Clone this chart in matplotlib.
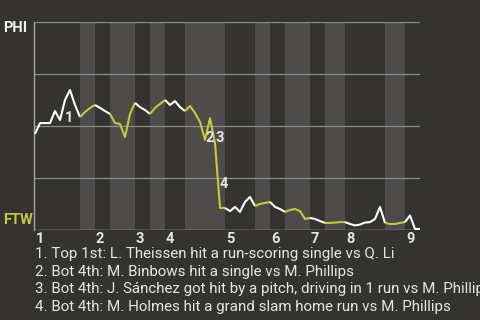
import matplotlib
matplotlib.use("Agg")
import matplotlib.pyplot as plt

plt.rcParams['font.family'] = ['Roboto', 'DejaVu Sans']

# ---- data ----
phi_wp = [46.2, 51.4, 51.4, 51.4, 57.2, 52.9, 62.5, 67.3, 60.1, 54.3,
          56.7, 58.7, 60.1, 58.7, 57.2, 55.8, 51.4, 51.0, 44.7, 55.8,
          61.1, 59.1, 57.7, 55.8, 58.7, 60.6, 62.5, 60.1, 62.0, 59.1,
          57.2, 59.6, 56.3, 51.9, 43.3, 53.8, 41.8, 10.6, 10.6, 9.1,
          11.1, 8.7, 13.5, 15.9, 11.5, 12.5, 13.0, 13.5, 11.1, 10.1,
          8.7, 9.6, 10.1, 9.1, 5.3, 5.8, 5.3, 4.3, 3.4, 3.4,
          3.6, 3.8, 3.8, 2.9, 2.2, 2.6, 3.6, 3.8, 5.3, 11.1,
          3.4, 2.9, 2.9, 3.4, 3.8, 7.0, 0.5, 0.5]
top_starts = [0, 12, 20, 26, 38, 47, 55, 62, 74]
bot_starts = [9, 15, 23, 30, 44, 50, 58, 70]
inning_labels = ['1', '2', '3', '4', '5', '6', '7', '8', '9']
event_idx = [6, 34, 36, 37]
event_label_wp = [53.8, 44.2, 44.2, 22.1]
event_texts = [
    "1. Top 1st: L. Theissen hit a run-scoring single vs Q. Li",
    "2. Bot 4th: M. Binbows hit a single vs M. Phillips",
    "3. Bot 4th: J. Sánchez got hit by a pitch, driving in 1 run vs M. Phillips",
    "4. Bot 4th: M. Holmes hit a grand slam home run vs M. Phillips",
]
teams = ['PHI', 'FTW']

# ---- style ----
W, H = 480, 320
bg = '#35332f'
band = '#4d4c4a'
grid = '#8c8c8c'
white = '#ffffff'
yellow = '#c8c83c'
txt = '#e6e6e6'

fig = plt.figure(figsize=(W / 100, H / 100), dpi=100)
fig.patch.set_facecolor(bg)
ax = fig.add_axes([34 / W, 1 - 230 / H, 386 / W, 208 / H])
ax.set_facecolor(bg)
n = len(phi_wp) - 1
ax.set_xlim(-0.2, n)
ax.set_ylim(0, 100)
for s in ['top', 'right', 'bottom']:
    ax.spines[s].set_visible(False)
ax.spines['left'].set_color('#a5a5a5')
ax.spines['left'].set_linewidth(1.0)
ax.set_xticks([])
ax.set_yticks([])

# bottom-half shading
for s in bot_starts:
    e = min([t for t in top_starts if t > s] + [n])
    ax.axvspan(s, e, color=band, lw=0, zorder=0)

for g in [25, 50, 75, 100]:
    ax.axhline(g, color=grid, lw=0.9, zorder=1)
ax.axhline(0, color='#bbbbbb', lw=1.0, zorder=1)

# win probability line coloured by batting half
halves = sorted([(t, 'top') for t in top_starts] + [(b, 'bot') for b in bot_starts])
for k, (a, kind) in enumerate(halves):
    b = halves[k + 1][0] if k + 1 < len(halves) else n
    ax.plot(range(a, b + 1), phi_wp[a:b + 1], color=white if kind == 'top' else yellow,
            lw=1.5, zorder=3, solid_capstyle='butt')

# inning labels
for idx, lab in zip(top_starts, inning_labels):
    ax.annotate(lab, xy=(idx, 0), xytext=(1, -2), textcoords='offset pixels',
                ha='left', va='top', fontsize=10.5, fontweight='bold', color=txt,
                annotation_clip=False)

# event labels
for k, (idx, ly) in enumerate(zip(event_idx, event_label_wp)):
    ax.text(idx, ly, str(k + 1), ha='left', va='center', fontsize=10.5,
            fontweight='bold', color=txt, zorder=4)

# team labels
fig.text(3 / W, 1 - 28 / H, teams[0], ha='left', va='center', fontsize=10.5,
         fontweight='bold', color='#f2f2f2')
fig.text(3 / W, 1 - 220 / H, teams[1], ha='left', va='center', fontsize=10.5,
         fontweight='bold', color=yellow)

# footer
for k, t in enumerate(event_texts):
    fig.text(35 / W, 1 - (258.3 + 17.6 * k) / H, t, ha='left', va='baseline',
             fontsize=10.9, color=txt)

fig.savefig('out.png', dpi=100, facecolor=bg)
